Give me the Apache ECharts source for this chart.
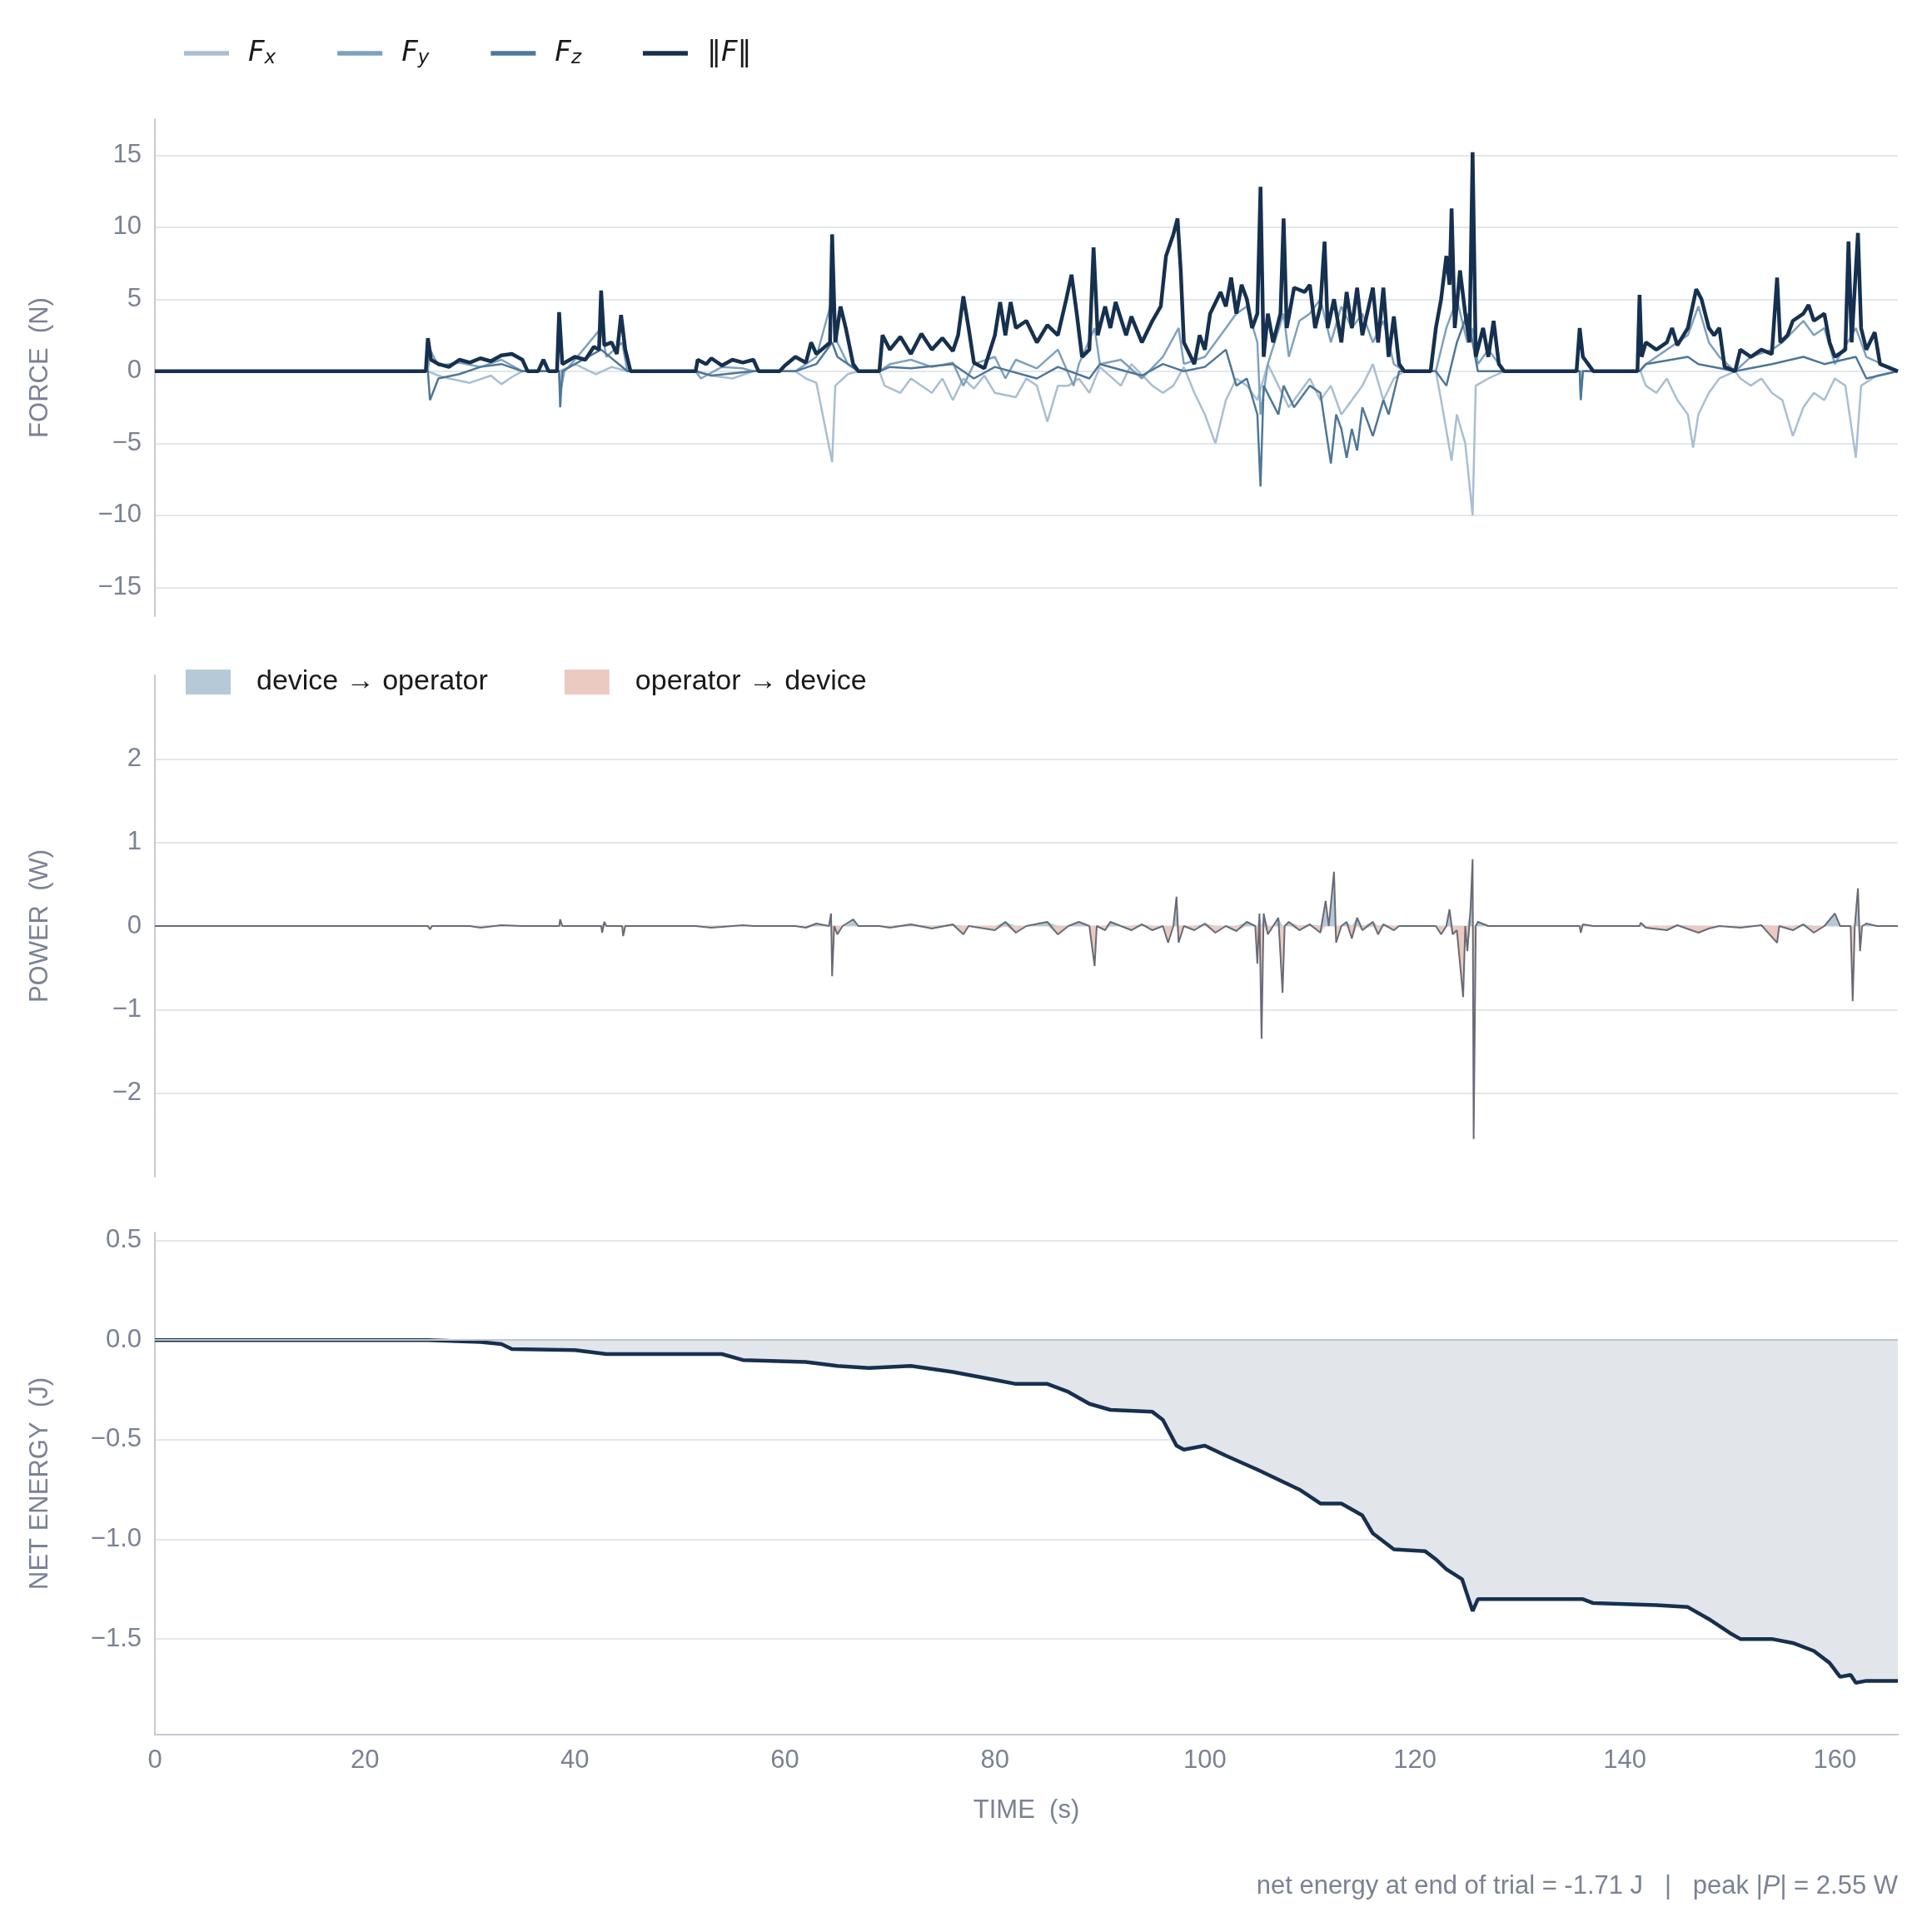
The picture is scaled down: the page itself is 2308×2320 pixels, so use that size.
<!DOCTYPE html>
<html><head><meta charset="utf-8">
<script src="https://cdn.jsdelivr.net/npm/echarts@6/dist/echarts.min.js"></script>
<style>html,body{margin:0;padding:0;background:#fff}#c{width:2308px;height:2320px}</style>
</head><body><div id="c"></div>
<script>
const forceTicks=[-15,-10,-5,0,5,10,15];
const powerTicks=[-2,-1,0,1,2];
const energyTicks=[-1.5,-1,-0.5,0,0.5];
const Fmag=[[0,0],[25.8,0],[26,2.3],[26.3,0.8],[27,0.5],[28,0.3],[29,0.8],[30,0.6],[31,0.9],[32,0.7],[33,1.1],[34,1.2],[35,0.8],[35.5,0],[36.5,0],[37,0.8],[37.5,0],[38.3,0],[38.5,4.1],[38.8,0.5],[40,1],[41,0.8],[41.8,1.7],[42.3,1.5],[42.5,5.6],[42.8,1.8],[43.5,2],[44,1.2],[44.4,3.9],[44.8,1.5],[45.3,0],[51.5,0],[51.7,0.8],[52.5,0.5],[53,0.9],[54,0.4],[55,0.8],[56,0.6],[57,0.8],[57.5,0],[59.5,0],[60,0.4],[61,1],[62,0.6],[62.5,2],[63,1.2],[63.5,1.5],[64.3,2],[64.5,9.5],[64.8,2],[65.3,4.5],[65.8,3],[66.5,0.5],[67,0],[69,0],[69.3,2.5],[70,1.5],[71,2.4],[72,1.2],[73,2.6],[74,1.5],[75,2.3],[76,1.4],[76.5,2.5],[77,5.2],[77.5,3],[78,0.6],[79,0.2],[80,2.5],[80.5,4.8],[81,2.5],[81.5,4.8],[82,3],[83,3.5],[84,2],[85,3.2],[86,2.5],[86.8,5],[87.3,6.7],[87.8,4],[88.3,1],[89,1.5],[89.4,8.6],[89.8,2.5],[90.5,4.5],[91,3],[91.5,4.8],[92.5,2.5],[93,3.8],[94,2],[95,3.5],[95.8,4.5],[96.3,8],[97,9.5],[97.4,10.6],[97.7,7],[98,2],[99,0.5],[99.5,2.5],[100,1.5],[100.5,4],[101.5,5.5],[102,4.5],[102.5,6.5],[103,4],[103.5,6],[104,5],[104.5,3],[105,4],[105.3,12.8],[105.6,1],[106,4],[106.5,2],[107.2,4],[107.5,10.6],[107.8,3],[108.5,5.8],[109.5,5.5],[110,6],[110.5,3],[111,4.5],[111.4,9],[111.7,3],[112.3,5],[113,2],[113.5,5.5],[114,3],[114.5,5.8],[115,2.5],[116,5.8],[116.5,2],[117,5.8],[117.5,1],[118,3.8],[118.5,0.5],[119,0],[121.5,0],[122,3],[122.5,5],[123,8],[123.3,6],[123.5,11.3],[123.8,3],[124.3,7],[124.8,4],[125.2,2],[125.5,15.2],[125.8,1],[126.5,3],[127,1],[127.5,3.5],[128,0.5],[128.5,0],[135.4,0],[135.7,3],[136,1],[136.5,0.5],[137,0],[141.2,0],[141.4,5.3],[141.6,1],[142,2],[143,1.5],[144,2],[144.5,3],[145,1.8],[146,3],[146.8,5.7],[147.3,5],[148,3],[148.5,2.5],[149,3],[149.5,0.3],[150.5,0],[151,1.5],[152,1],[153,1.5],[154,1.2],[154.5,6.5],[154.8,2],[155.5,2.5],[156,3.5],[157,4],[157.5,4.6],[158,3.5],[159,4],[159.5,2],[160,1],[161,1.5],[161.3,9],[161.6,2],[162.2,9.6],[162.5,3],[163,1.5],[163.8,2.7],[164.3,0.5],[165,0.3],[166,0]];
const Fx=[[0,0],[26,0],[27,-0.3],[28,-0.5],[30,-0.8],[32,-0.3],[33,-0.9],[34,-0.4],[35,0],[38.5,0],[40,0.5],[42,-0.2],[43.5,0.3],[45,0],[51.5,0],[53,-0.3],[55,-0.5],[57,0],[61,0],[62,-0.5],[63,-0.8],[64.5,-6.3],[64.8,-1],[66,-0.2],[67,0],[69,0],[69.5,-1],[71,-1.5],[72,-0.5],[74,-1.5],[75,-0.5],[76,-2],[77,-0.5],[78,-1.2],[79,-0.3],[80,-1.5],[82,-1.8],[83,-0.5],[84,-1],[85,-3.5],[86,-1],[87,-1],[88,-0.5],[89,-1.5],[90,0.3],[92,-1],[93,0.5],[95,-1],[96,-1.5],[97,-1],[98,0.3],[99,-1.5],[100,-3],[101,-5],[102,-2],[103,-0.5],[104,-1],[105,-2],[106,0.5],[107,-1],[108,-2.5],[109,-1.5],[110,-0.5],[111,-2],[112,-1],[113,-3],[114,-2],[115,-1],[116,0.5],[117,-2],[118,-0.5],[119,0],[122,0],[122.5,-2],[123.5,-6.2],[124,-3],[124.8,-5],[125.5,-10],[125.8,-1],[127,-0.5],[128.5,0],[141.5,0],[142,-1],[143,-1.5],[144,-0.5],[145,-2],[146,-3],[146.5,-5.3],[147,-3],[148,-1.5],[149,-0.5],[150.5,0],[151,-0.5],[152,-1],[153,-0.5],[154,-1.5],[155,-2],[156,-4.5],[157,-2.5],[158,-1.5],[159,-2],[160,-0.5],[161,-1],[162,-6],[162.5,-1],[164,-0.3],[166,0]];
const Fy=[[0,0],[26,0],[26.2,1.5],[27,0.4],[29,0.6],[31,0.3],[33,0.8],[35,0],[38.5,0],[38.6,-1.5],[39,0],[40,0.8],[42.5,3],[43,1],[44.5,2],[45,0],[51.5,0],[52,-0.5],[54,0.3],[56,0.2],[57,0],[61,0],[62,0.5],[63,1],[64.5,5],[65,2],[66,0.5],[67,0],[69,0],[70,0.5],[72,0.8],[74,0.3],[76,0.6],[77,-1],[78,0.5],[80,1],[81,-0.5],[82,0.8],[84,0.2],[86,1.5],[87.5,-1],[88,0.5],[89.5,3],[90,0.5],[92,0.8],[94,-0.5],[96,1],[97.5,3],[98,0.5],[100,1],[101,2],[102,3],[103,4],[104,4.5],[105,2],[105.3,-3],[106,0.5],[107.5,4],[108,1],[109,3.5],[110,4],[111,5],[112,2],[113,4.5],[114,3],[115,4],[116,2],[117,3.5],[118,0.5],[119,0],[122,0],[123,3],[124,5],[125,2],[125.5,3],[126,0.5],[127,1.5],[128.5,0],[135.7,0],[135.8,-1.8],[136,0],[141.4,0],[142,0.5],[144,1.5],[146,2.5],[147,4.5],[148,2],[149,1],[150.5,0],[152,1],[154,1.5],[155,2],[157,3.5],[158,2.5],[159,3],[160,0.5],[162,3],[163,1],[166,0]];
const Fz=[[0,0],[26,0],[26.2,-2],[27,-0.5],[29,-0.2],[31,0.3],[33,0.5],[35,0],[38.5,0],[38.6,-2.5],[38.8,0],[40,0.5],[42.5,1.5],[45,0],[51.5,0],[53,-0.3],[57,0],[61,0],[63,0.5],[64.5,2],[65,1],[67,0],[69,0],[70,0.3],[72,0.2],[76,0.5],[78,-0.5],[80,0.3],[84,-0.5],[86,0.3],[89,-0.5],[90,0.5],[94,-0.3],[96,0.5],[98,0],[100,0.3],[102,1.5],[103,-1],[104,-0.5],[105,-3],[105.3,-8],[105.6,-1],[107,-3],[107.5,-1],[108.5,-2.5],[110,-1],[111,-1.5],[112,-6.4],[112.5,-3],[113,-4],[113.5,-6],[114,-4],[114.5,-5.5],[115,-2.5],[116,-4.5],[117,-2],[117.5,-3],[118.5,0],[122,0],[123,-1],[124,2],[125,4],[125.5,2],[126,0],[128.5,0],[135.7,0],[135.8,-2],[136,0],[141.4,0],[142,0.5],[146,1],[147,0.5],[150.5,0],[154,0.5],[157,1],[159,0.5],[162,1],[163,-0.5],[166,0]];
const power=[[0,0],[26,0],[26.2,-0.04],[26.4,0],[30,0],[31,-0.02],[33,0.01],[35,0],[38.5,0],[38.6,0.08],[38.8,0],[42.5,0],[42.6,-0.08],[42.8,0.05],[43,0],[44.5,0],[44.6,-0.12],[44.8,0],[51.5,0],[53,-0.02],[56,0.01],[57,0],[61,0],[62,-0.02],[63,0.03],[64.2,0],[64.4,0.15],[64.5,-0.6],[64.7,0],[65,-0.1],[65.5,0],[66.5,0.08],[67,0],[69,0],[70,-0.02],[72,0.02],[74,-0.03],[76,0.02],[77,-0.1],[77.5,0],[80,-0.05],[81,0.05],[82,-0.08],[83,0],[85,0.05],[86,-0.1],[87,0],[88,0.05],[89,0],[89.5,-0.48],[89.7,0],[90.5,-0.05],[91,0.05],[92,0],[93,-0.05],[94,0.02],[95,-0.05],[96,0],[96.5,-0.2],[97,0],[97.3,0.35],[97.5,-0.2],[98,0],[99,-0.05],[100,0.03],[101,-0.08],[102,0],[103,-0.06],[104,0.05],[104.8,0],[105,-0.45],[105.2,0.15],[105.4,-1.35],[105.6,0.15],[106,-0.1],[106.5,0],[107,0.1],[107.4,-0.8],[107.6,0],[108,0.05],[109,-0.05],[110,0.02],[111,-0.08],[111.5,0.3],[111.8,0],[112.3,0.65],[112.5,-0.2],[113,0],[113.5,0.05],[114,-0.15],[114.5,0.1],[115,-0.05],[116,0.05],[116.5,-0.1],[117,0.02],[118,-0.05],[118.5,0],[122,0],[122.5,-0.1],[123,0],[123.3,0.2],[123.6,-0.1],[124,-0.05],[124.6,-0.85],[124.8,0],[125,-0.3],[125.3,0.2],[125.5,0.8],[125.6,-2.55],[125.8,0],[126,0.05],[127,0],[128.5,0],[135.7,0],[135.8,-0.08],[136,0.02],[137,0],[141.4,0],[141.5,0.04],[142,-0.02],[144,-0.05],[145,0.01],[147,-0.08],[148,-0.03],[149,0],[151,-0.02],[153,0.01],[154.5,-0.2],[154.7,0],[156,-0.05],[157,0.02],[158,-0.08],[159,0],[160,0.15],[160.5,0],[161.5,0],[161.7,-0.9],[161.9,0],[162.2,0.45],[162.4,-0.3],[162.6,0],[163,0.03],[164,0],[166,0]];
const energy=[[0,0],[26,0],[31,-0.01],[33,-0.02],[34,-0.045],[40,-0.05],[43,-0.07],[54,-0.07],[56,-0.1],[62,-0.11],[65,-0.13],[68,-0.14],[72,-0.13],[76,-0.16],[80,-0.2],[82,-0.22],[85,-0.22],[87,-0.26],[89,-0.32],[91,-0.35],[95,-0.36],[96,-0.4],[97.3,-0.53],[98,-0.55],[100,-0.53],[102,-0.58],[105,-0.65],[107,-0.7],[109,-0.75],[111,-0.82],[113,-0.82],[115,-0.88],[116,-0.97],[118,-1.05],[121,-1.06],[122,-1.1],[123,-1.15],[124.5,-1.2],[125.5,-1.36],[126,-1.3],[136,-1.3],[137,-1.32],[143,-1.33],[146,-1.34],[148,-1.4],[150,-1.47],[151,-1.5],[154,-1.5],[156,-1.52],[158,-1.56],[159.5,-1.62],[160.5,-1.69],[161.5,-1.68],[162,-1.72],[163,-1.71],[166,-1.71]];

const GRAY='#7a8294', AX='#c5cad3', SPL='#e3e6ea';
const fmt=(d)=>v=>{const s=Math.abs(v).toFixed(d);return v<0?'\u2212'+s:s;};
function yA(idx,min,max,ticks,name,d){return {gridIndex:idx,type:'value',min,max,name,nameLocation:'middle',nameGap:122,
 nameTextStyle:{color:GRAY,fontSize:31,fontFamily:'Liberation Sans'},
 axisLine:{show:true,lineStyle:{color:AX,width:2}},axisTick:{show:false,customValues:ticks},
 axisLabel:{customValues:ticks,color:GRAY,fontSize:31,fontFamily:'Liberation Sans',margin:16,formatter:fmt(d)},
 splitLine:{show:true,lineStyle:{color:SPL,width:2}}};}
function xA(idx,show){return {gridIndex:idx,type:'value',min:0,max:166,interval:20,
 name:show?'TIME  (s)':'',nameLocation:'middle',nameGap:76,nameTextStyle:{color:GRAY,fontSize:31,fontFamily:'Liberation Sans'},
 axisLine:{show:show,onZero:false,lineStyle:{color:AX,width:2}},axisTick:{show:false},
 axisLabel:{show:show,color:GRAY,fontSize:31,fontFamily:'Liberation Sans',margin:16,showMaxLabel:false},splitLine:{show:false}};}
const posP=power.map(([t,v])=>[t,Math.max(v,0)]);
const negP=power.map(([t,v])=>[t,Math.min(v,0)]);
const ln=(name,data,color,w,xi)=>({name,type:'line',data,xAxisIndex:xi,yAxisIndex:xi,showSymbol:false,symbol:'none',lineStyle:{color,width:w},itemStyle:{color},animation:false});
const rich={i:{fontStyle:'italic',fontSize:34,fontFamily:'DejaVu Sans',color:'#1a1a1a'},s:{fontStyle:'italic',fontSize:23,fontFamily:'DejaVu Sans',color:'#1a1a1a',verticalAlign:'bottom',padding:[12,0,0,0]},n:{fontSize:34,fontFamily:'DejaVu Sans',color:'#1a1a1a'}};
const lab={'Fx':'{i|F}{s|x}','Fy':'{i|F}{s|y}','Fz':'{i|F}{s|z}','|F|':'{n|\u2016}{i|F}{n|\u2016}'};
const chart=echarts.init(document.getElementById('c'));
chart.setOption({backgroundColor:'#fff',animation:false,
 grid:[{left:186,right:29,top:143,height:597},{left:186,right:29,top:811,height:602},{left:186,right:29,top:1480,height:603}],
 xAxis:[xA(0,false),xA(1,false),xA(2,true)],
 yAxis:[yA(0,-17,17.5,forceTicks,'FORCE  (N)',0),yA(1,-3,3,powerTicks,'POWER  (W)',0),yA(2,-1.98,0.54,energyTicks,'NET ENERGY  (J)',1)],
 legend:[{data:['Fx','Fy','Fz','|F|'],left:216,top:42,itemWidth:54,itemGap:74,icon:'path://M0,0H10V1H0Z',
   formatter:n=>lab[n],textStyle:{rich,padding:[0,0,0,18]}},
  {data:['device \u2192 operator','operator \u2192 device'],left:218,top:797,icon:'rect',itemWidth:54,itemHeight:30,itemGap:92,
   textStyle:{fontSize:34,fontFamily:'Liberation Sans',color:'#1a1a1a',padding:[0,0,0,26]}}],
 series:[
  ln('Fx',Fx,'#a9bed2',2.5,0),ln('Fy',Fy,'#7ea1be',2.5,0),ln('Fz',Fz,'#4e7798',2.5,0),ln('|F|',Fmag,'#16304f',4.5,0),
  Object.assign(ln('device \u2192 operator',posP,'#b6c9d7',0,1),{areaStyle:{color:'#b6c9d7',opacity:1},lineStyle:{width:0}}),
  Object.assign(ln('operator \u2192 device',negP,'#ebcbc1',0,1),{areaStyle:{color:'#ebcbc1',opacity:1},lineStyle:{width:0}}),
  ln('P',power,'#686b75',2,1),
  Object.assign(ln('E',energy,'#16304f',4.5,2),{areaStyle:{color:'#e2e6eb',opacity:1},
   markLine:{symbol:'none',silent:true,label:{show:false},lineStyle:{color:'#c0c6ce',width:2,type:'solid'},data:[{yAxis:0}]}})
 ],
 graphic:[{type:'text',right:29,top:2250,style:{text:'net energy at end of trial = -1.71 J   |   peak |{i|P}| = 2.55 W',fill:GRAY,fontSize:31,fontFamily:'Liberation Sans',
   rich:{i:{fontStyle:'italic',fontSize:31,fontFamily:'Liberation Sans',fill:GRAY}}}}]
});
</script></body></html>
